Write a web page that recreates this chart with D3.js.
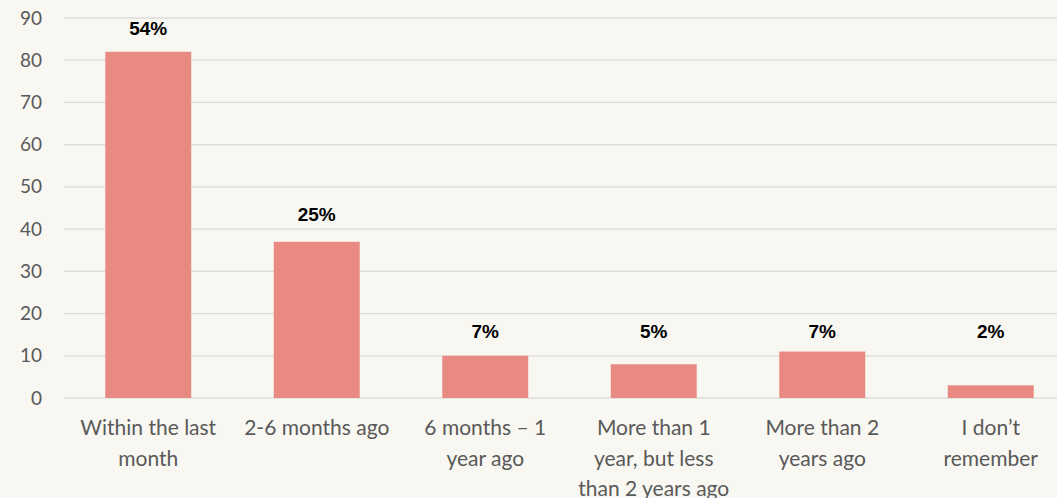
<!DOCTYPE html>
<html lang="en">
<head>
<meta charset="utf-8">
<script src="https://d3js.org/d3.v7.min.js"></script>
<style>
  body { margin: 0; background: #f8f7f2; }
  .axis text { font-family: Lato, "Open Sans", sans-serif; font-size: 19px; fill: #595959; }
  .cat text { font-size: 21px; }
  .pct { font-family: "Liberation Sans", Arial, sans-serif; font-size: 19px; font-weight: bold; fill: #000; }
</style>
</head>
<body>
<script>
const categories = [
  ["Within the last", "month"],
  ["2-6 months ago"],
  ["6 months \u2013 1", "year ago"],
  ["More than 1", "year, but less", "than 2 years ago"],
  ["More than 2", "years ago"],
  ["I don\u2019t", "remember"]
];
const values = [82, 37, 10, 8, 11, 3];
const pctLabels = ["54%", "25%", "7%", "5%", "7%", "2%"];
const labelAt = [87.5, 43.5, 15.9, 15.9, 15.9, 15.9];
const yTicks = [0, 10, 20, 30, 40, 50, 60, 70, 80, 90];

const w = 1057, h = 498;
const padLeft = 64, padBottom = 398, padTop = 18;

const svg = d3.select("body").append("svg")
  .attr("width", w).attr("height", h);

svg.append("rect").attr("width", w).attr("height", h).attr("fill", "#f8f7f2");

const x = d3.scaleBand()
  .domain(d3.range(categories.length))
  .range([padLeft, padLeft + 6 * 168.5])
  .paddingInner(0.49).paddingOuter(0.245);

const y = d3.scaleLinear().domain([0, 90]).range([padBottom, padTop]);

// grid
svg.append("g")
  .selectAll("line")
  .data(yTicks)
  .join("line")
  .attr("x1", padLeft).attr("x2", w)
  .attr("y1", d => y(d)).attr("y2", d => y(d))
  .attr("stroke", "#dddcd8").attr("stroke-width", 1.3);

// y axis labels
const ya = svg.append("g").attr("class", "axis")
  .attr("transform", "translate(42,0)")
  .call(d3.axisLeft(y).tickValues(yTicks).tickSize(0).tickPadding(0));
ya.select(".domain").remove();

// bars
svg.append("g")
  .selectAll("rect")
  .data(values)
  .join("rect")
  .attr("x", (d, i) => x(i))
  .attr("width", x.bandwidth())
  .attr("y", d => y(d))
  .attr("height", d => y(0) - y(d))
  .attr("fill", "#e88a82");

// value labels
svg.append("g")
  .selectAll("text")
  .data(pctLabels)
  .join("text")
  .attr("class", "pct")
  .attr("x", (d, i) => x(i) + x.bandwidth() / 2)
  .attr("y", (d, i) => y(labelAt[i]))
  .attr("dy", "0.35em")
  .attr("text-anchor", "middle")
  .text(d => d);

// category labels
const xa = svg.append("g").attr("class", "axis cat");
categories.forEach((lines, i) => {
  const t = xa.append("text")
    .attr("text-anchor", "middle");
  lines.forEach((l, j) => {
    t.append("tspan")
      .attr("x", x(i) + x.bandwidth() / 2)
      .attr("y", 428 + j * 30.5)
      .attr("dy", "0.35em")
      .text(l);
  });
});
</script>
</body>
</html>
